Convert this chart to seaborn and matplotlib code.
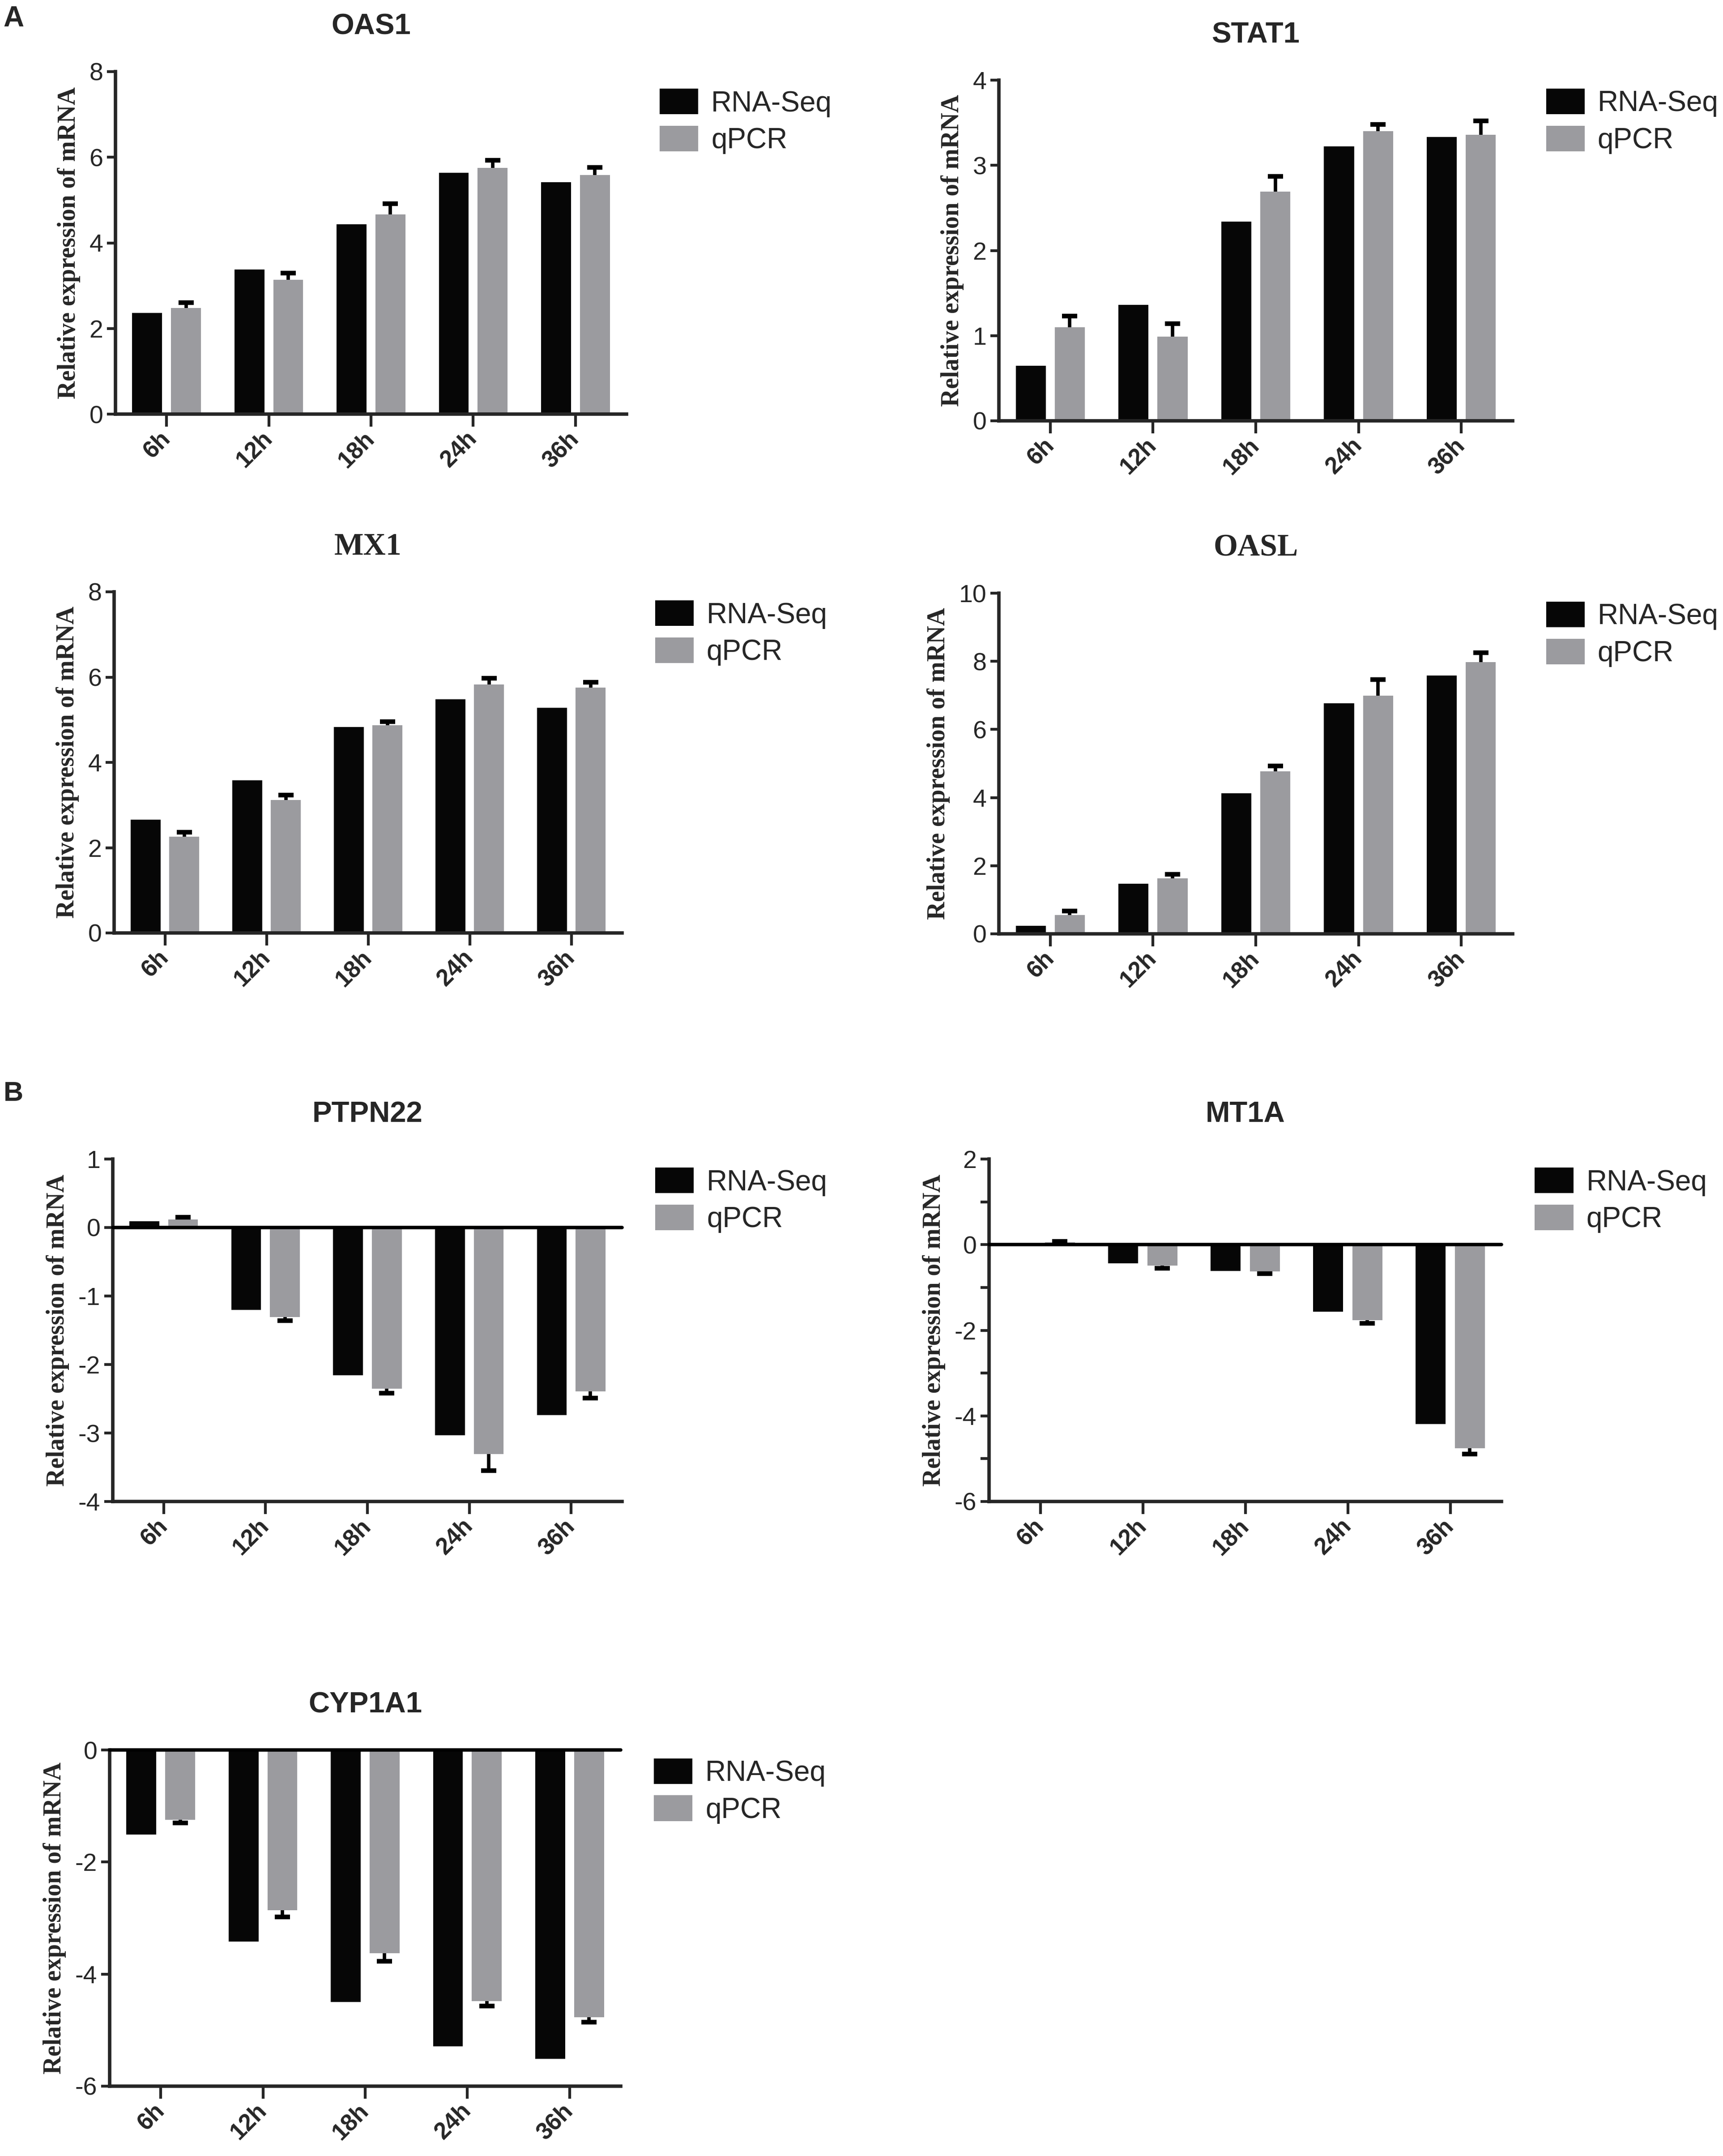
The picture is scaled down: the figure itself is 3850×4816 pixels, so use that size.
import numpy as np
import pandas as pd
import matplotlib.pyplot as plt
import seaborn as sns

# time points and methods
times = ['6h', '12h', '18h', '24h', '36h']
methods = ['RNA-Seq', 'qPCR']

# values (RNA-Seq, qPCR mean, qPCR error)
oas1_rna = [2.36, 3.38, 4.43, 5.64, 5.42]
oas1_qpcr = [2.48, 3.14, 4.66, 5.75, 5.58]
oas1_err = [0.12, 0.15, 0.25, 0.18, 0.18]

stat1_rna = [0.645, 1.36, 2.34, 3.22, 3.33]
stat1_qpcr = [1.10, 0.99, 2.69, 3.40, 3.36]
stat1_err = [0.13, 0.15, 0.18, 0.08, 0.16]

mx1_rna = [2.66, 3.58, 4.83, 5.48, 5.28]
mx1_qpcr = [2.26, 3.12, 4.87, 5.83, 5.75]
mx1_err = [0.10, 0.11, 0.09, 0.14, 0.13]

oasl_rna = [0.23, 1.47, 4.12, 6.77, 7.58]
oasl_qpcr = [0.55, 1.63, 4.77, 6.99, 7.97]
oasl_err = [0.12, 0.12, 0.16, 0.48, 0.28]

ptpn22_rna = [0.09, -1.20, -2.16, -3.03, -2.74]
ptpn22_qpcr = [0.12, -1.31, -2.35, -3.31, -2.39]
ptpn22_err = [0.03, 0.05, 0.07, 0.24, 0.10]

mt1a_rna = [0.03, -0.44, -0.61, -1.57, -4.19]
mt1a_qpcr = [0.05, -0.49, -0.63, -1.76, -4.76]
mt1a_err = [0.03, 0.06, 0.05, 0.08, 0.13]

cyp1a1_rna = [-1.51, -3.42, -4.50, -5.29, -5.51]
cyp1a1_qpcr = [-1.245, -2.86, -3.63, -4.48, -4.77]
cyp1a1_err = [0.06, 0.12, 0.14, 0.09, 0.09]

sns.set_style('ticks')
plt.rcParams['font.family'] = ['Liberation Sans', 'DejaVu Sans']
plt.rcParams['axes.unicode_minus'] = False

W, H = 3850, 4816
fig = plt.figure(figsize=(W / 100, H / 100), dpi=100)

LW = 5.5
colors = ['#060606', '#9b9b9f']


def px_axes(x0, y0, x1, y1):
    return fig.add_axes([x0 / W, 1 - y1 / H, (x1 - x0) / W, (y1 - y0) / H])


def panel(ax, title, rna, qpcr, err, ylim, yticks, serif_title=False, minor=None,
          zero_line=False, leg_y=0.975):
    df = pd.DataFrame({
        'time': times * 2,
        'method': [methods[0]] * 5 + [methods[1]] * 5,
        'value': list(rna) + list(qpcr),
    })
    sns.barplot(data=df, x='time', y='value', hue='method', order=times, hue_order=methods,
                palette=colors, saturation=1, width=0.76, gap=0.23, errorbar=None,
                linewidth=0, ax=ax)

    # one-sided error bars on the qPCR bars
    bars = ax.containers[1]
    xs = np.array([b.get_x() + b.get_width() / 2 for b in bars])
    vals = np.array(qpcr)
    tips = vals + np.sign(vals) * np.array(err)
    ax.vlines(xs, vals, tips, color='black', lw=LW, zorder=3)
    ax.plot(xs, tips, ls='none', marker='_', ms=24, mew=LW + 2, color='black', zorder=3)

    if zero_line:
        ax.axhline(0, color='black', lw=LW, clip_on=False, zorder=4)

    ax.set_xlim(-0.5, 4.5)
    ax.set_ylim(*ylim)
    ax.set_yticks(yticks)
    ax.set_yticklabels([str(t) for t in yticks])
    if minor is not None:
        ax.set_yticks(minor, minor=True)
        ax.tick_params(axis='y', which='minor', length=14, width=LW - 1)
    sns.despine(ax=ax)
    for s in ['left', 'bottom']:
        ax.spines[s].set_linewidth(LW)
    ax.tick_params(axis='y', length=14, width=LW - 1, labelsize=40, pad=6)
    ax.tick_params(axis='x', length=20, width=LW - 1, labelsize=38, pad=14)
    plt.setp(ax.get_xticklabels(), rotation=45, ha='right', va='center', rotation_mode='anchor',
             fontweight='bold')
    ax.set_xlabel('')
    ax.set_ylabel('Relative expression of mRNA', family=['Liberation Serif'], fontweight='bold',
                  fontsize=40, labelpad=14)
    if serif_title:
        ax.set_title(title, family=['Liberation Serif'], fontweight='bold', fontsize=50, pad=60)
    else:
        ax.set_title(title, fontweight='bold', fontsize=47, pad=60)

    h, l = ax.get_legend_handles_labels()
    ax.legend(h, l, loc='upper left', bbox_to_anchor=(1.065, leg_y), frameon=False, fontsize=46,
              handlelength=1.35, handleheight=1.0, handletextpad=0.45, labelspacing=0.3,
              borderaxespad=0, borderpad=0)


ax1 = px_axes(258, 160, 1400, 925)
panel(ax1, 'OAS1', oas1_rna, oas1_qpcr, oas1_err, (0, 8), [0, 2, 4, 6, 8], leg_y=0.95)

ax2 = px_axes(2232, 179, 3380, 940)
panel(ax2, 'STAT1', stat1_rna, stat1_qpcr, stat1_err, (0, 4), [0, 1, 2, 3, 4])

ax3 = px_axes(255, 1322, 1390, 2084)
panel(ax3, 'MX1', mx1_rna, mx1_qpcr, mx1_err, (0, 8), [0, 2, 4, 6, 8], serif_title=True)

ax4 = px_axes(2232, 1325, 3380, 2086)
panel(ax4, 'OASL', oasl_rna, oasl_qpcr, oasl_err, (0, 10), [0, 2, 4, 6, 8, 10], serif_title=True)

ax5 = px_axes(252, 2589, 1390, 3354)
panel(ax5, 'PTPN22', ptpn22_rna, ptpn22_qpcr, ptpn22_err, (-4, 1), [-4, -3, -2, -1, 0, 1],
      zero_line=True)

ax6 = px_axes(2210, 2589, 3355, 3354)
panel(ax6, 'MT1A', mt1a_rna, mt1a_qpcr, mt1a_err, (-6, 2), [-6, -4, -2, 0, 2],
      minor=[-5, -3, -1, 1], zero_line=True)

ax7 = px_axes(245, 3909, 1387, 4660)
panel(ax7, 'CYP1A1', cyp1a1_rna, cyp1a1_qpcr, cyp1a1_err, (-6, 0), [-6, -4, -2, 0],
      zero_line=True)

fig.text(0.002, 1 - 12 / H, 'A', fontweight='bold', fontsize=46, va='top', ha='left')
fig.text(0.002, 1 - 2415 / H, 'B', fontweight='bold', fontsize=44, va='top', ha='left')

fig.savefig('out.png', dpi=100, facecolor='white')
